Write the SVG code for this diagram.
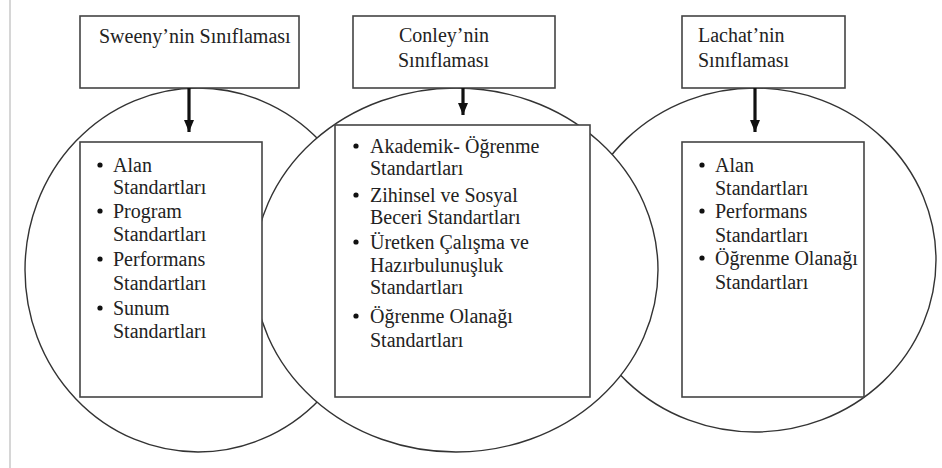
<svg xmlns="http://www.w3.org/2000/svg" width="942" height="468" viewBox="0 0 942 468">
<defs>
<style>
.bg{fill:#fff}
.ring{fill:#fff;stroke:#333;stroke-width:1.4}
.box{fill:#fff;stroke:#444;stroke-width:1.6}
text{font-family:"Liberation Serif","Times New Roman",serif;font-size:20px;fill:#222}
.dot{fill:#111}
.arr{stroke:#111;stroke-width:3.2;fill:none}
</style>
<marker id="ah" viewBox="0 0 12 10" refX="12" refY="5" markerWidth="12" markerHeight="10" markerUnits="userSpaceOnUse" orient="auto">
<path d="M0,0 L12,5 L0,10 Z" fill="#111"/>
</marker>
</defs>
<rect class="bg" x="0" y="0" width="942" height="468"/>
<line x1="10" y1="0" x2="10" y2="468" stroke="#bbb" stroke-width="1.2"/>
<g id="circles">
<ellipse class="ring" cx="198" cy="270" rx="173" ry="182"/>
<ellipse class="ring" cx="755" cy="260" rx="181" ry="172"/>
<ellipse class="ring" cx="456" cy="270" rx="202" ry="182"/>
</g>
<g id="sweeny-header" font-family="Liberation Serif, serif">
<rect class="box" x="80" y="16" width="219" height="72"/>
<text x="99" y="43">Sweeny’nin Sınıflaması</text>
</g>
<g id="conley-header" font-family="Liberation Serif, serif">
<rect class="box" x="353" y="16" width="202" height="72"/>
<text x="399" y="42">Conley’nin</text>
<text x="398" y="67">Sınıflaması</text>
</g>
<g id="lachat-header" font-family="Liberation Serif, serif">
<rect class="box" x="682" y="16" width="163" height="72"/>
<text x="698" y="42">Lachat’nin</text>
<text x="698" y="67">Sınıflaması</text>
</g>
<g id="sweeny-list" font-family="Liberation Serif, serif">
<rect class="box" x="80" y="142" width="182" height="255"/>
<circle class="dot" cx="100" cy="165" r="2.6"/>
<text x="113" y="172">Alan</text>
<text x="113" y="194">Standartları</text>
<circle class="dot" cx="100" cy="211" r="2.6"/>
<text x="113" y="218">Program</text>
<text x="113" y="241">Standartları</text>
<circle class="dot" cx="100" cy="259" r="2.6"/>
<text x="113" y="266">Performans</text>
<text x="113" y="290">Standartları</text>
<circle class="dot" cx="100" cy="308" r="2.6"/>
<text x="113" y="315">Sunum</text>
<text x="113" y="338">Standartları</text>
</g>
<g id="conley-list" font-family="Liberation Serif, serif">
<rect class="box" x="335" y="125" width="255" height="272"/>
<circle class="dot" cx="356" cy="146" r="2.6"/>
<text x="370" y="153">Akademik- Öğrenme</text>
<text x="370" y="175">Standartları</text>
<circle class="dot" cx="356" cy="195" r="2.6"/>
<text x="370" y="202">Zihinsel ve Sosyal</text>
<text x="370" y="224">Beceri Standartları</text>
<circle class="dot" cx="356" cy="242" r="2.6"/>
<text x="370" y="249">Üretken Çalışma ve</text>
<text x="370" y="272">Hazırbulunuşluk</text>
<text x="370" y="294">Standartları</text>
<circle class="dot" cx="356" cy="316" r="2.6"/>
<text x="370" y="323">Öğrenme Olanağı</text>
<text x="370" y="347">Standartları</text>
</g>
<g id="lachat-list" font-family="Liberation Serif, serif">
<rect class="box" x="682" y="142" width="182" height="255"/>
<circle class="dot" cx="702" cy="165" r="2.6"/>
<text x="715" y="172">Alan</text>
<text x="715" y="195">Standartları</text>
<circle class="dot" cx="702" cy="211" r="2.6"/>
<text x="715" y="218">Performans</text>
<text x="715" y="242">Standartları</text>
<circle class="dot" cx="702" cy="258" r="2.6"/>
<text x="715" y="265">Öğrenme Olanağı</text>
<text x="715" y="289">Standartları</text>
</g>
<g id="connectors">
<line class="arr" x1="189" y1="88" x2="189" y2="132" marker-end="url(#ah)"/>
<line class="arr" x1="463" y1="88" x2="463" y2="115" marker-end="url(#ah)"/>
<line class="arr" x1="755" y1="88" x2="755" y2="132" marker-end="url(#ah)"/>
</g>
</svg>
